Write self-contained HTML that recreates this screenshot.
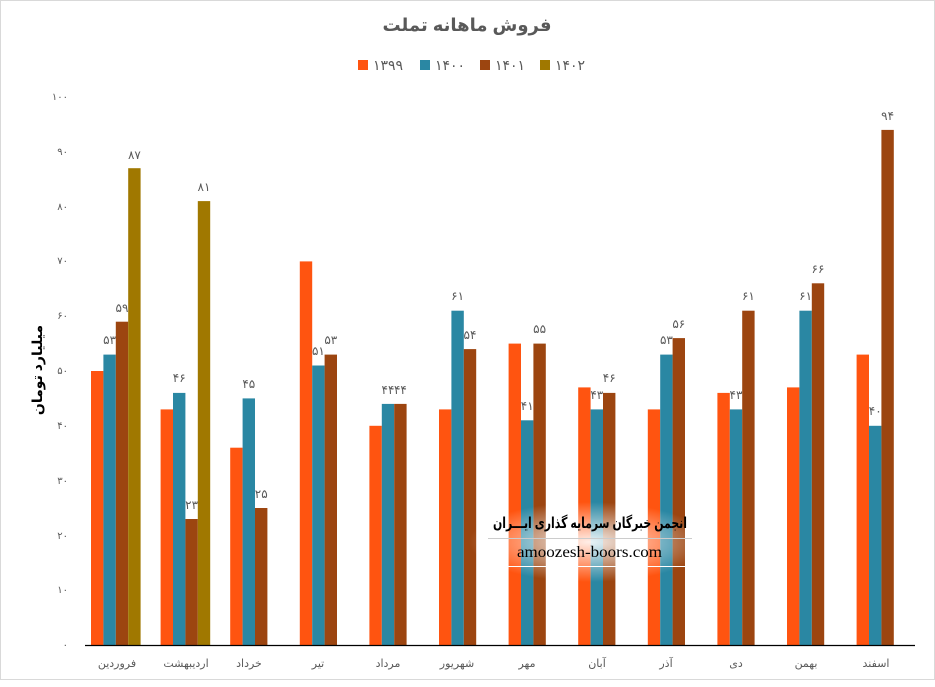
<!DOCTYPE html>
<html><head><meta charset="utf-8"><style>
body{margin:0;background:#fff}
svg{display:block;font-family:"Liberation Sans","DejaVu Sans",sans-serif}
</style></head><body>
<svg width="935" height="687" viewBox="0 0 935 687" xmlns="http://www.w3.org/2000/svg">
<rect x="0.5" y="0.5" width="934" height="679" fill="#fff" stroke="#d9d9d9"/>
<text x="467" y="31" font-size="18" font-weight="bold" fill="#595959" text-anchor="middle">فروش ماهانه تملت</text>
<g font-size="14" fill="#595959">
<rect x="358" y="60" width="10" height="10" fill="#FF5410"/><text x="373" y="70">۱۳۹۹</text>
<rect x="420" y="60" width="10" height="10" fill="#2A87A3"/><text x="435" y="70">۱۴۰۰</text>
<rect x="480" y="60" width="10" height="10" fill="#9C4510"/><text x="495" y="70">۱۴۰۱</text>
<rect x="540" y="60" width="10" height="10" fill="#A07800"/><text x="555" y="70">۱۴۰۲</text>
</g>
<g font-size="10" fill="#595959" text-anchor="end">
<text x="68" y="100">۱۰۰</text><text x="68" y="155">۹۰</text><text x="68" y="210">۸۰</text>
<text x="68" y="264">۷۰</text><text x="68" y="319">۶۰</text><text x="68" y="374">۵۰</text>
<text x="68" y="429">۴۰</text><text x="68" y="484">۳۰</text><text x="68" y="539">۲۰</text>
<text x="68" y="593">۱۰</text><text x="68" y="648">۰</text>
</g>
<text transform="translate(42,370) rotate(-90)" font-size="14" font-weight="bold" fill="#000" text-anchor="middle">میلیارد تومان</text>
<g>
<rect x="91" y="371" width="12.4" height="274" fill="#FF5410"/><rect x="103.4" y="354.6" width="12.4" height="290.4" fill="#2A87A3"/><rect x="115.8" y="321.7" width="12.4" height="323.3" fill="#9C4510"/><rect x="128.2" y="168.2" width="12.4" height="476.8" fill="#A07800"/>
<rect x="160.6" y="409.4" width="12.4" height="235.6" fill="#FF5410"/><rect x="173" y="392.9" width="12.4" height="252.1" fill="#2A87A3"/><rect x="185.4" y="519" width="12.4" height="126" fill="#9C4510"/><rect x="197.8" y="201.1" width="12.4" height="443.9" fill="#A07800"/>
<rect x="230.2" y="447.7" width="12.4" height="197.3" fill="#FF5410"/><rect x="242.6" y="398.4" width="12.4" height="246.6" fill="#2A87A3"/><rect x="255" y="508" width="12.4" height="137" fill="#9C4510"/>
<rect x="299.8" y="261.4" width="12.4" height="383.6" fill="#FF5410"/><rect x="312.2" y="365.5" width="12.4" height="279.5" fill="#2A87A3"/><rect x="324.6" y="354.6" width="12.4" height="290.4" fill="#9C4510"/>
<rect x="369.4" y="425.8" width="12.4" height="219.2" fill="#FF5410"/><rect x="381.8" y="403.9" width="12.4" height="241.1" fill="#2A87A3"/><rect x="394.2" y="403.9" width="12.4" height="241.1" fill="#9C4510"/>
<rect x="439" y="409.4" width="12.4" height="235.6" fill="#FF5410"/><rect x="451.4" y="310.7" width="12.4" height="334.3" fill="#2A87A3"/><rect x="463.8" y="349.1" width="12.4" height="295.9" fill="#9C4510"/>
<rect x="508.6" y="343.6" width="12.4" height="301.4" fill="#FF5410"/><rect x="521" y="420.3" width="12.4" height="224.7" fill="#2A87A3"/><rect x="533.4" y="343.6" width="12.4" height="301.4" fill="#9C4510"/>
<rect x="578.2" y="387.4" width="12.4" height="257.6" fill="#FF5410"/><rect x="590.6" y="409.4" width="12.4" height="235.6" fill="#2A87A3"/><rect x="603" y="392.9" width="12.4" height="252.1" fill="#9C4510"/>
<rect x="647.8" y="409.4" width="12.4" height="235.6" fill="#FF5410"/><rect x="660.2" y="354.6" width="12.4" height="290.4" fill="#2A87A3"/><rect x="672.6" y="338.1" width="12.4" height="306.9" fill="#9C4510"/>
<rect x="717.4" y="392.9" width="12.4" height="252.1" fill="#FF5410"/><rect x="729.8" y="409.4" width="12.4" height="235.6" fill="#2A87A3"/><rect x="742.2" y="310.7" width="12.4" height="334.3" fill="#9C4510"/>
<rect x="787" y="387.4" width="12.4" height="257.6" fill="#FF5410"/><rect x="799.4" y="310.7" width="12.4" height="334.3" fill="#2A87A3"/><rect x="811.8" y="283.3" width="12.4" height="361.7" fill="#9C4510"/>
<rect x="856.6" y="354.6" width="12.4" height="290.4" fill="#FF5410"/><rect x="869" y="425.8" width="12.4" height="219.2" fill="#2A87A3"/><rect x="881.4" y="129.9" width="12.4" height="515.1" fill="#9C4510"/>
</g>
<g font-size="12" fill="#595959" text-anchor="middle">
<text x="109.6" y="344">۵۳</text><text x="122" y="312">۵۹</text><text x="134.4" y="159">۸۷</text>
<text x="179.2" y="382">۴۶</text><text x="191.6" y="509">۲۳</text><text x="204" y="191">۸۱</text>
<text x="248.8" y="388">۴۵</text><text x="261.2" y="498">۲۵</text>
<text x="318.4" y="355">۵۱</text><text x="330.8" y="344">۵۳</text>
<text x="388" y="394">۴۴</text><text x="400.4" y="394">۴۴</text>
<text x="457.6" y="300">۶۱</text><text x="470" y="339">۵۴</text>
<text x="527.2" y="410">۴۱</text><text x="539.6" y="333">۵۵</text>
<text x="596.8" y="399">۴۳</text><text x="609.2" y="382">۴۶</text>
<text x="666.4" y="344">۵۳</text><text x="678.8" y="328">۵۶</text>
<text x="736" y="399">۴۳</text><text x="748.4" y="300">۶۱</text>
<text x="805.6" y="300">۶۱</text><text x="818" y="273">۶۶</text>
<text x="875.2" y="415">۴۰</text><text x="887.6" y="120">۹۴</text>
</g>
<line x1="85" y1="645.5" x2="915" y2="645.5" stroke="#000" stroke-width="1.2"/>
<g font-size="11" fill="#595959" text-anchor="middle">
<text x="117" y="667">فروردین</text><text x="186" y="667">اردیبهشت</text><text x="249" y="667">خرداد</text>
<text x="318" y="667">تیر</text><text x="388" y="667">مرداد</text><text x="457" y="667">شهریور</text>
<text x="527" y="667">مهر</text><text x="597" y="667">آبان</text><text x="666" y="667">آذر</text>
<text x="736" y="667">دی</text><text x="806" y="667">بهمن</text><text x="876" y="667">اسفند</text>
</g>
<defs><radialGradient id="g"><stop offset="0" stop-color="#fff" stop-opacity="0.9"/><stop offset="1" stop-color="#fff" stop-opacity="0"/></radialGradient></defs>
<ellipse cx="589" cy="542" rx="120" ry="40" fill="url(#g)"/>
<text x="493" y="528" font-size="15" font-weight="bold" fill="#000" textLength="194" lengthAdjust="spacingAndGlyphs">انجمن خبرگان سرمایه گذاری ایـــران</text>
<line x1="488" y1="538.5" x2="692" y2="538.5" stroke="#ccc"/>
<text x="517" y="557" font-size="16" font-family="Liberation Serif,serif" fill="#000" textLength="145" lengthAdjust="spacingAndGlyphs">amoozesh-boors.com</text>
<line x1="508" y1="566.5" x2="692" y2="566.5" stroke="#fff"/>
</svg>
</body></html>
